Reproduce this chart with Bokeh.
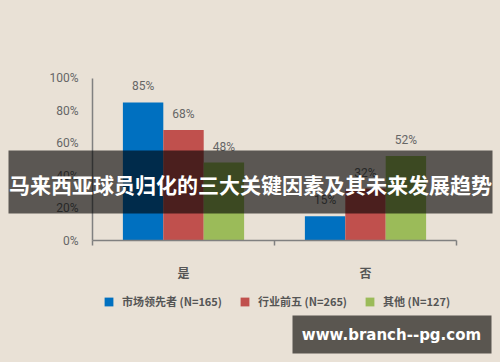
from bokeh.plotting import figure
from bokeh.models import ColumnDataSource, Range1d, FixedTicker, PrintfTickFormatter, BoxAnnotation, Label
from bokeh.transform import dodge
from bokeh.core.properties import value
from bokeh.embed import file_html
from bokeh.resources import INLINE

categories = ["是", "否"]
series_names = ["市场领先者 (N=165)", "行业前五 (N=265)", "其他 (N=127)"]
leaders = [85, 15]
top5 = [68, 32]
others = [48, 52]
colors = ["#0070c0", "#c0504d", "#9bbb59"]
y_ticks = [0, 20, 40, 60, 80, 100]
title_text = "马来西亚球员归化的三大关键因素及其未来发展趋势"
watermark_text = "www.branch--pg.com"

BG = "#e9e1d6"
W, H = 500, 362
keys = ["leaders", "top5", "others"]
x_pos = [i + 0.5 for i in range(len(categories))]
data = dict(x=x_pos, leaders=leaders, top5=top5, others=others)
for k in keys:
    data[k + "_lbl"] = [f"{v}%" for v in data[k]]
src = ColumnDataSource(data)

# plot area (in canvas pixels): x 92..456, y 77.5(top, 100%)..240(bottom, 0%)
px_left, px_right, px_top, px_bottom = 92.0, 456.0, 77.5, 240.0
n = len(categories)
sx = (px_right - px_left) / n
sy = (px_bottom - px_top) / 100.0
x_range = Range1d(-px_left / sx, n + (W - px_right) / sx)
y_range = Range1d(-(H - px_bottom) / sy, 100 + px_top / sy)

p = figure(width=W, height=H, x_range=x_range, y_range=y_range,
           output_backend="svg", toolbar_location=None,
           min_border=0, min_border_left=0, min_border_right=0,
           min_border_top=0, min_border_bottom=0,
           background_fill_color=BG, border_fill_color=BG, outline_line_color=None)
p.xgrid.visible = False
p.ygrid.visible = False

bw = 0.222
offsets = [-bw, 0, bw]
for k, name, col, off in zip(keys, series_names, colors, offsets):
    p.vbar(x=dodge("x", off, range=p.x_range), top=k, width=bw, source=src,
           fill_color=col, line_color=None, legend_label=name)
    p.text(x=dodge("x", off, range=p.x_range), y=k, text=k + "_lbl", source=src,
           text_align="center", text_baseline="middle", y_offset=-16,
           text_font=value("Roboto"), text_font_size="12px",
           text_color="#666666")

# y axis
ya = p.yaxis[0]
ya.fixed_location = 0
ya.bounds = (0, 100)
ya.ticker = FixedTicker(ticks=y_ticks)
ya.formatter = PrintfTickFormatter(format="%d%%")
ya.major_tick_out = 0
ya.major_tick_in = 0
ya.minor_tick_out = 0
ya.minor_tick_in = 0
ya.major_label_standoff = 14
ya.major_label_text_font = "Roboto"
ya.major_label_text_font_size = "12px"
ya.major_label_text_color = "#666666"
ya.axis_line_color = "#808080"
ya.axis_line_width = 1.5

# x axis
xa = p.xaxis[0]
xa.fixed_location = 0
xa.bounds = (0, n)
xa.ticker = FixedTicker(ticks=x_pos, minor_ticks=list(range(n + 1)))
xa.major_label_overrides = {x: c for x, c in zip(x_pos, categories)}
xa.major_tick_out = 0
xa.major_tick_in = 0
xa.minor_tick_out = 5
xa.minor_tick_in = 0
xa.minor_tick_line_color = "#808080"
xa.minor_tick_line_width = 1.5
xa.major_label_standoff = 18
xa.major_label_text_font = "Noto Sans CJK SC"
xa.major_label_text_font_size = "12px"
xa.major_label_text_font_style = "bold"
xa.major_label_text_color = "#555555"
xa.axis_line_color = "#808080"
xa.axis_line_width = 1.5

# legend
lg = p.legend[0]
lg.location = (103, 53)
lg.orientation = "horizontal"
lg.background_fill_alpha = 0
lg.border_line_color = None
lg.padding = 0
lg.margin = 0
lg.spacing = 17
lg.glyph_width = 11
lg.glyph_height = 11
lg.label_standoff = 8
lg.label_height = 12
lg.label_text_font = "Noto Sans CJK SC"
lg.label_text_font_size = "11px"
lg.label_text_font_style = "bold"
lg.label_text_color = "#555555"

# title banner overlay
banner = BoxAnnotation(left=8, right=492, top=150, bottom=213,
                       left_units="canvas", right_units="canvas",
                       top_units="canvas", bottom_units="canvas",
                       fill_color="black", fill_alpha=0.61, line_color=None)
p.add_layout(banner)
p.add_layout(Label(x=250, y=183, x_units="canvas", y_units="canvas", text=title_text,
                   text_align="center", text_baseline="middle",
                   text_font="Noto Sans CJK SC", text_font_size="21px",
                   text_font_style="bold", text_color="white"))

# watermark
wm = BoxAnnotation(left=292, right=491, top=315, bottom=353,
                   left_units="canvas", right_units="canvas",
                   top_units="canvas", bottom_units="canvas",
                   fill_color="#5a5650", fill_alpha=1, line_color=None)
p.add_layout(wm)
p.add_layout(Label(x=391, y=334, x_units="canvas", y_units="canvas", text=watermark_text,
                   text_align="center", text_baseline="middle",
                   text_font="DejaVu Sans", text_font_size="15px",
                   text_font_style="bold", text_color="white"))

html = file_html(p, INLINE)
html = html.replace("</head>", "<style>html,body{background:%s;}</style></head>" % BG, 1)
open("out.html", "w").write(html)
